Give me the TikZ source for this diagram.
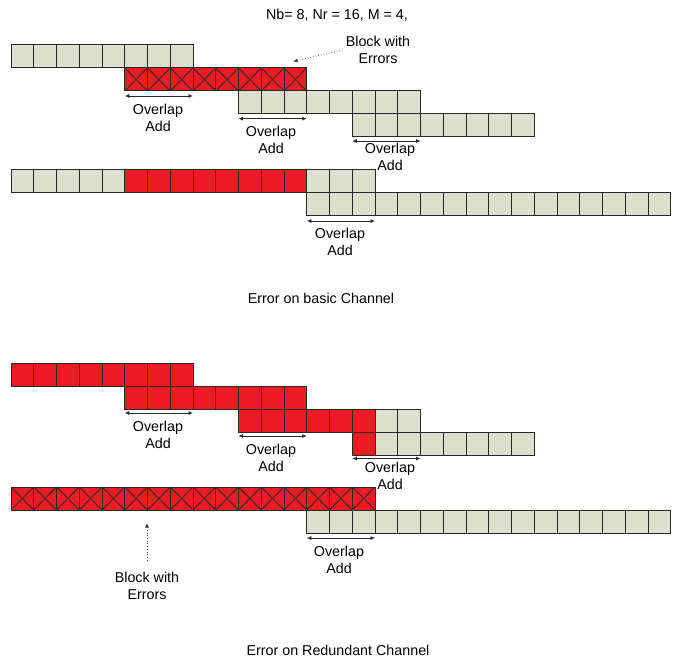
\documentclass[tikz,border=0pt]{standalone}
\usepackage{fontspec}
\setmainfont{Liberation Sans}
\usetikzlibrary{arrows.meta}
\definecolor{cellgray}{RGB}{221,224,207}
\definecolor{cellred}{RGB}{237,28,36}
\definecolor{edge}{RGB}{40,40,40}
\tikzset{
  cellbox/.style={draw=edge, line width=1pt, minimum width=22.75pt, minimum height=23pt, inner sep=0pt, outer sep=0pt, anchor=north west},
  gcell/.style={cellbox, fill=cellgray},
  rcell/.style={cellbox, fill=cellred},
  xcell/.style={rcell, path picture={\draw[edge, line width=0.85pt] (path picture bounding box.north west) -- (path picture bounding box.south east) (path picture bounding box.north east) -- (path picture bounding box.south west);}},
  ovl/.style={draw=edge, line width=0.8pt, {Latex[length=4.5pt,width=4pt]}-{Latex[length=4.5pt,width=4pt]}},
  lbl/.style={font=\fontsize{14.3}{16.5}\selectfont, align=center, inner sep=0pt},
  errarrow/.style={draw=black!75, dotted, line width=0.7pt, -{Latex[length=4.5pt,width=4pt]}}
}
\newcommand\cellrow[5]{%
  \foreach \k in {#3,...,#4}{\node[#5] (#1-\k) at ({11+22.75*\k}, #2) {};}}
\begin{document}
\begin{tikzpicture}[x=1pt,y=-1pt]
\useasboundingbox (0,0) rectangle (674,660);

\node[lbl] (title) at (337,15) {Nb= 8, Nr = 16, M = 4,};

% ---- basic channel
\cellrow{a}{45}{0}{7}{gcell}
\cellrow{b}{68}{5}{12}{xcell}
\cellrow{c}{91}{10}{17}{gcell}
\cellrow{d}{114}{15}{22}{gcell}

\draw[ovl] ([yshift=-5pt]b-5.south west) -- ([yshift=-5pt]b-7.south east);
\node[lbl] (o1) at (158,118) {Overlap\\Add};
\draw[ovl] ([yshift=-4.7pt]c-10.south west) -- ([yshift=-4.7pt]c-12.south east);
\node[lbl] (o2) at (271,140) {Overlap\\Add};
\draw[ovl] ([yshift=-4pt]d-15.south west) -- ([yshift=-4pt]d-17.south east);
\node[lbl] (o3) at (390,157) {Overlap\\Add};

\node[lbl] (bwe1) at (378,50) {Block with\\Errors};
\coordinate (e1) at (293,61.5);
\draw[errarrow] ([xshift=-3pt,yshift=0pt]bwe1.west) -- (e1);

\cellrow{e}{170}{0}{4}{gcell}
\cellrow{e}{170}{5}{12}{rcell}
\cellrow{e}{170}{13}{15}{gcell}
\cellrow{f}{193}{13}{28}{gcell}
\draw[ovl] ([yshift=-5pt]f-13.south west) -- ([yshift=-5pt]f-15.south east);
\node[lbl] (o4) at (340,242) {Overlap\\Add};

\node[lbl] (cap1) at (321,298) {Error on basic Channel};

% ---- redundant channel
\cellrow{g}{363}{0}{7}{rcell}
\cellrow{h}{386}{5}{12}{rcell}
\cellrow{i}{409}{10}{15}{rcell}
\cellrow{i}{409}{16}{17}{gcell}
\cellrow{j}{432}{15}{15}{rcell}
\cellrow{j}{432}{16}{22}{gcell}

\draw[ovl] ([yshift=-4pt]h-5.south west) -- ([yshift=-4pt]h-7.south east);
\node[lbl] (o5) at (158,435) {Overlap\\Add};
\draw[ovl] ([yshift=-4pt]i-10.south west) -- ([yshift=-4pt]i-12.south east);
\node[lbl] (o6) at (271,458) {Overlap\\Add};
\draw[ovl] ([yshift=-3.5pt]j-15.south west) -- ([yshift=-3.5pt]j-17.south east);
\node[lbl] (o7) at (390,476) {Overlap\\Add};

\cellrow{k}{487}{0}{15}{xcell}
\cellrow{l}{510}{13}{28}{gcell}
\draw[ovl] ([yshift=-5pt]l-13.south west) -- ([yshift=-5pt]l-15.south east);
\node[lbl] (o8) at (339,560) {Overlap\\Add};

\node[lbl] (bwe2) at (147,586) {Block with\\Errors};
\coordinate (e2) at (147,523);
\draw[errarrow] ([yshift=12pt]bwe2.north) -- (e2);

\node[lbl] (cap2) at (338,650) {Error on Redundant Channel};
\end{tikzpicture}
\end{document}
